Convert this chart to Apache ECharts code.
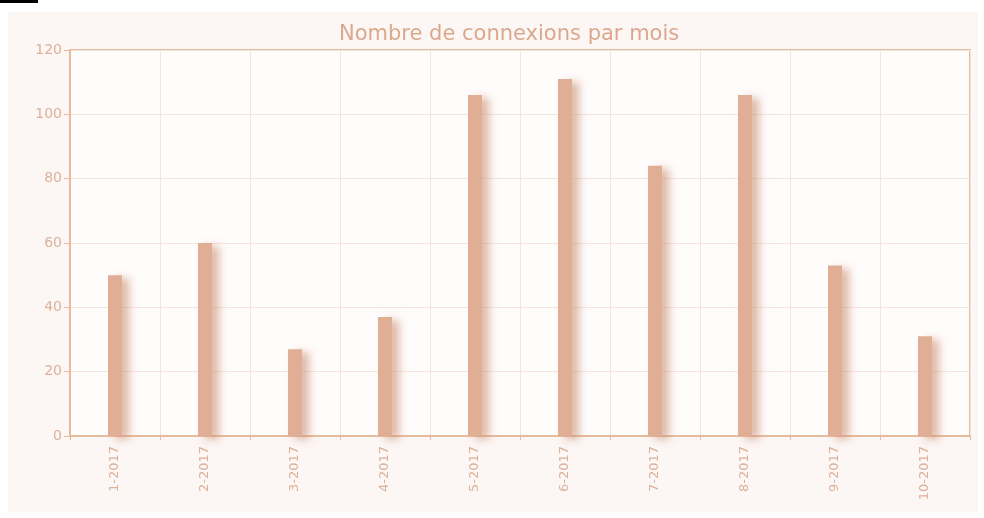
<!DOCTYPE html>
<html>
<head>
<meta charset="utf-8">
<script src="https://cdn.jsdelivr.net/npm/echarts@6/dist/echarts.min.js"></script>
<style>
  html, body { margin: 0; padding: 0; background: #fff; }
  #chart { width: 984px; height: 518px; }
</style>
</head>
<body>
<div id="chart"></div>
<script>
var months = ["1-2017", "2-2017", "3-2017", "4-2017", "5-2017", "6-2017", "7-2017", "8-2017", "9-2017", "10-2017"];
var connexions = [50, 60, 27, 37, 106, 111, 84, 106, 53, 31];

var chart = echarts.init(document.getElementById("chart"));

var lineColor = "#e6bc9f";
var gridColor = "#f5e4db";
var textColor = "#dcb29a";

var option = {
  backgroundColor: "#ffffff",
  animation: false,
  graphic: [
    {
      type: "rect",
      z: -10,
      shape: { x: 8, y: 12, width: 970, height: 500 },
      style: { fill: "#fcf6f4" }
    },
    {
      type: "rect",
      z: 10,
      shape: { x: 0, y: 0, width: 38, height: 3 },
      style: { fill: "#000000" }
    }
  ],
  title: {
    text: "Nombre de connexions par mois",
    left: 334,
    top: 19,
    textStyle: {
      color: "#dba88d",
      fontSize: 21,
      fontWeight: "normal",
      fontFamily: "DejaVu Sans"
    }
  },
  grid: {
    left: 70,
    right: 14,
    top: 50,
    bottom: 82,
    show: true,
    backgroundColor: "#fffcfc",
    borderColor: lineColor,
    borderWidth: 2
  },
  xAxis: {
    type: "category",
    data: months,
    axisLine: { lineStyle: { color: lineColor, width: 2 } },
    axisTick: { show: true, length: 4, lineStyle: { color: lineColor } },
    axisLabel: {
      rotate: 90,
      color: textColor,
      fontSize: 13,
      fontFamily: "DejaVu Sans",
      margin: 10
    },
    splitLine: { show: true, lineStyle: { color: gridColor, width: 1 } }
  },
  yAxis: {
    type: "value",
    min: 0,
    max: 120,
    interval: 20,
    axisLine: { show: true, lineStyle: { color: lineColor, width: 2 } },
    axisTick: { show: true, length: 6, lineStyle: { color: lineColor } },
    axisLabel: {
      color: textColor,
      fontSize: 14,
      fontFamily: "DejaVu Sans",
      margin: 8
    },
    splitLine: { show: true, lineStyle: { color: gridColor, width: 1 } }
  },
  series: [
    {
      type: "bar",
      data: connexions,
      barWidth: 14,
      itemStyle: {
        color: "#dfae94",
        shadowColor: "rgba(200,140,110,0.6)",
        shadowBlur: 8,
        shadowOffsetX: 7,
        shadowOffsetY: 3
      }
    }
  ]
};

chart.setOption(option);
</script>
</body>
</html>
